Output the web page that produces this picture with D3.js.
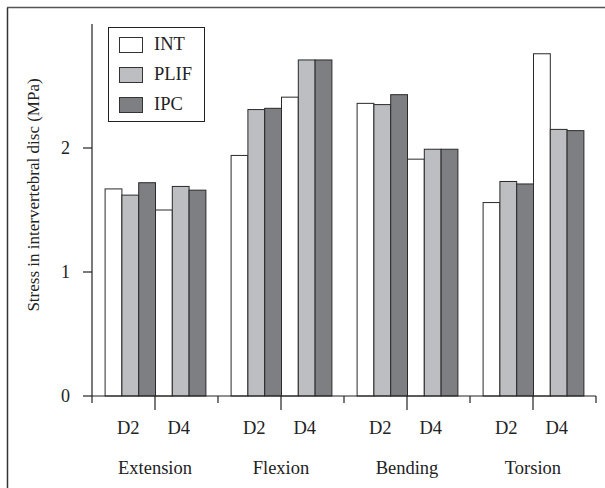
<!DOCTYPE html>
<html><head><meta charset="utf-8">
<script src="https://cdn.jsdelivr.net/npm/d3@7"></script>
<style>body{margin:0;background:#fff}svg{display:block}text{font-family:"Liberation Serif","DejaVu Serif",serif;fill:#222}</style>
</head><body><div id="c"></div>
<script>
const categories = ["Extension", "Flexion", "Bending", "Torsion"];
const levels = ["D2", "D4"];
const series = ["INT", "PLIF", "IPC"];
// values [category][level] per series
const INT  = [[1.67, 1.50], [1.94, 2.41], [2.36, 1.91], [1.56, 2.76]];
const PLIF = [[1.62, 1.69], [2.31, 2.71], [2.35, 1.99], [1.73, 2.15]];
const IPC  = [[1.72, 1.66], [2.32, 2.71], [2.43, 1.99], [1.71, 2.14]];
const yTicks = [0, 1, 2];
const colors = {INT: "#ffffff", PLIF: "#bdbec2", IPC: "#7e7f83"};
const valuesBySeries = {INT, PLIF, IPC};

const W = 605, H = 488;
const svg = d3.select("#c").append("svg").attr("width", W).attr("height", H);

// frame
svg.append("line").attr("x1", 7.5).attr("x2", 7.5).attr("y1", 7.5).attr("y2", 488).attr("stroke", "#333").attr("stroke-width", 1.5);
svg.append("line").attr("x1", 7).attr("x2", 605).attr("y1", 7.5).attr("y2", 7.5).attr("stroke", "#555").attr("stroke-width", 1.5);

const x0 = 92, x1 = 596, yBase = 396, yTop = 24;
const y = d3.scaleLinear().domain([0, 3]).range([yBase, yTop]);
const xg = d3.scaleBand().domain(categories).range([x0, x1]).paddingInner(0).paddingOuter(0);
const xl = d3.scaleBand().domain(levels).range([0, xg.bandwidth()]);
const combos = [];
levels.forEach(l => series.forEach(s => combos.push(l + "|" + s)));
const xb = d3.scaleBand().domain(combos).range([0, xg.bandwidth()]).paddingInner(0).paddingOuter(0.75);

// bars
const bars = [];
categories.forEach((c, ci) => levels.forEach((l, li) => series.forEach(s => {
  bars.push({c, l, s, v: valuesBySeries[s][ci][li]});
})));
svg.append("g").selectAll("rect").data(bars).join("rect")
  .attr("x", d => xg(d.c) + xb(d.l + "|" + d.s) + 0.5)
  .attr("width", xb.bandwidth())
  .attr("y", d => y(d.v))
  .attr("height", d => yBase - y(d.v))
  .attr("fill", d => colors[d.s])
  .attr("stroke", "#2a2a2a").attr("stroke-width", 1);

// y axis
const ax = svg.append("g").attr("stroke", "#222").attr("stroke-width", 1.2);
ax.append("line").attr("x1", x0).attr("x2", x0).attr("y1", yTop).attr("y2", yBase);
ax.selectAll(".yt").data(yTicks).join("line").attr("class", "yt")
  .attr("x1", x0 - 9).attr("x2", x0).attr("y1", d => y(d)).attr("y2", d => y(d));
svg.selectAll(".ytl").data(yTicks).join("text").attr("class", "ytl")
  .attr("x", 70).attr("y", d => y(d) + 6).attr("text-anchor", "end").attr("font-size", 18).text(d => d);

// x axis
ax.append("line").attr("x1", x0).attr("x2", x1).attr("y1", yBase).attr("y2", yBase);
const groupEdges = categories.map(c => xg(c)).concat([x1]);
ax.selectAll(".xs").data(groupEdges).join("line").attr("class", "xs")
  .attr("x1", d => d).attr("x2", d => d).attr("y1", yBase).attr("y2", yBase + 7);
ax.selectAll(".xl").data(categories).join("line").attr("class", "xl")
  .attr("x1", c => xg(c) + xl("D4")).attr("x2", c => xg(c) + xl("D4")).attr("y1", yBase).attr("y2", yBase + 14);

// level labels
const lv = [];
categories.forEach(c => levels.forEach(l => lv.push({c, l})));
svg.selectAll(".lvl").data(lv).join("text").attr("class", "lvl")
  .attr("x", d => xg(d.c) + xb(d.l + "|PLIF") + xb.bandwidth() / 2 - 1.5)
  .attr("y", 434).attr("text-anchor", "middle").attr("font-size", 18.5).text(d => d.l);
svg.selectAll(".cat").data(categories).join("text").attr("class", "cat")
  .attr("x", c => xg(c) + xg.bandwidth() / 2).attr("y", 473.5)
  .attr("text-anchor", "middle").attr("font-size", 18.5).text(c => c);

// y title
svg.append("text").attr("transform", "translate(39,195) rotate(-90)")
  .attr("text-anchor", "middle").attr("font-size", 17).text("Stress in intervertebral disc (MPa)");

// legend
const lg = svg.append("g");
lg.append("rect").attr("x", 108.5).attr("y", 27.5).attr("width", 96).attr("height", 94)
  .attr("fill", "#fff").attr("stroke", "#222").attr("stroke-width", 1);
series.forEach((s, i) => {
  lg.append("rect").attr("x", 119.5).attr("y", 37.5 + i * 30).attr("width", 23).attr("height", 15)
    .attr("fill", colors[s]).attr("stroke", "#333").attr("stroke-width", 1);
  lg.append("text").attr("x", 154).attr("y", 50 + i * 30).attr("font-size", 18.5).text(s);
});
</script></body></html>
